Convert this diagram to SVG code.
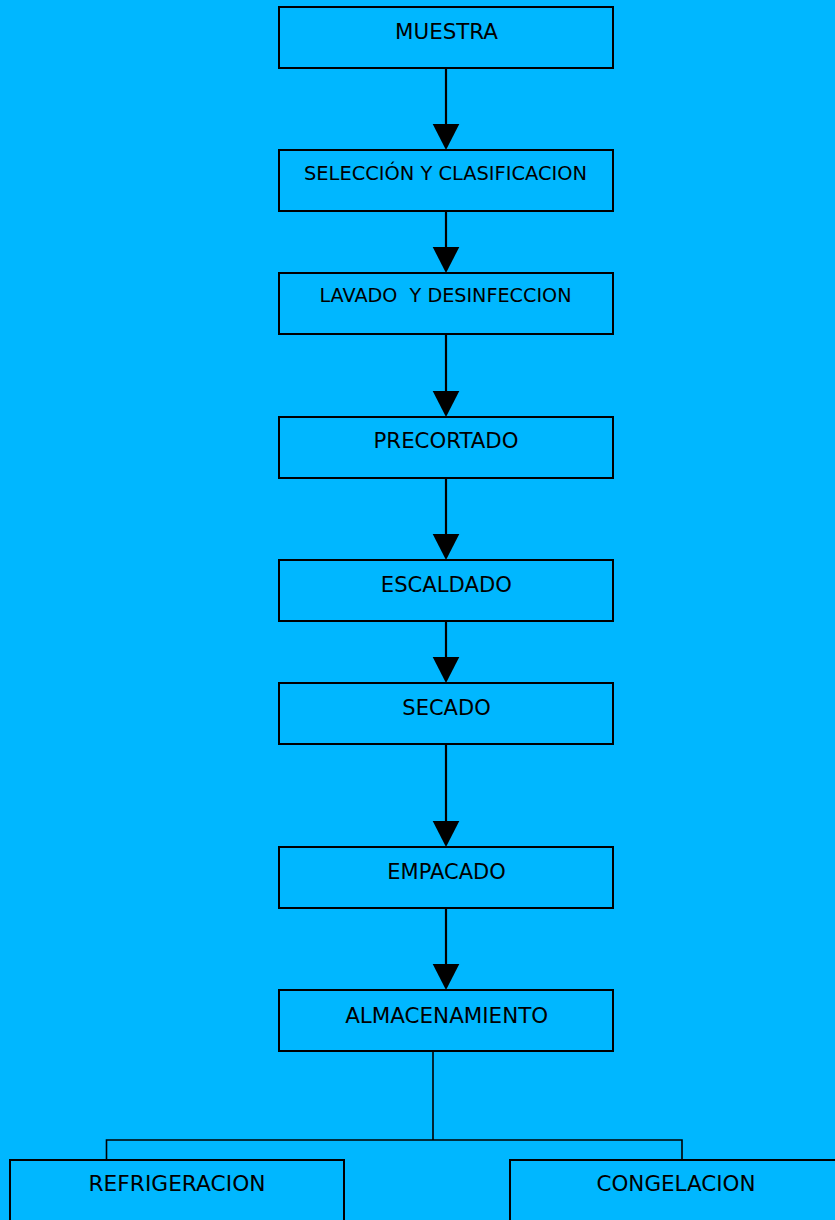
<svg xmlns="http://www.w3.org/2000/svg" width="835" height="1220" viewBox="0 0 835 1220">
<style>
.box{fill:#00B7FF;stroke:#000;stroke-width:2}
.t{font-family:"DejaVu Sans",Verdana,sans-serif;font-size:21px;fill:#000;text-anchor:middle}
.s{font-size:19px}
.ln{stroke:#000;stroke-width:2.2;fill:none}
.br{stroke:#000;stroke-width:1.6;fill:none}
</style>
<defs>
<polygon id="ah" points="-13.3,0 13.3,0 0,26" fill="#000"/>
</defs>
<rect width="835" height="1220" fill="#00B7FF"/>
<g id="connectors">
<line class="ln" x1="446" y1="68" x2="446" y2="124"/><use href="#ah" x="446" y="124"/>
<line class="ln" x1="446" y1="211" x2="446" y2="247"/><use href="#ah" x="446" y="247"/>
<line class="ln" x1="446" y1="334" x2="446" y2="391"/><use href="#ah" x="446" y="391"/>
<line class="ln" x1="446" y1="478" x2="446" y2="534"/><use href="#ah" x="446" y="534"/>
<line class="ln" x1="446" y1="621" x2="446" y2="657"/><use href="#ah" x="446" y="657"/>
<line class="ln" x1="446" y1="744" x2="446" y2="821"/><use href="#ah" x="446" y="821"/>
<line class="ln" x1="446" y1="908" x2="446" y2="964"/><use href="#ah" x="446" y="964"/>
<polyline class="br" points="433,1052 433,1140"/>
<polyline class="br" points="106.5,1160 106.5,1140 682,1140 682,1160"/>
</g>
<g id="n1"><rect class="box" x="279" y="7" width="334" height="61"/><text class="t" x="446.5" y="39" textLength="103" lengthAdjust="spacingAndGlyphs">MUESTRA</text></g>
<g id="n2"><rect class="box" x="279" y="150" width="334" height="61"/><text class="t s" x="445.5" y="180" textLength="283" lengthAdjust="spacingAndGlyphs">SELECCIÓN Y CLASIFICACION</text></g>
<g id="n3"><rect class="box" x="279" y="273" width="334" height="61"/><text class="t s" x="445.5" y="302" textLength="252" lengthAdjust="spacingAndGlyphs" xml:space="preserve">LAVADO  Y DESINFECCION</text></g>
<g id="n4"><rect class="box" x="279" y="417" width="334" height="61"/><text class="t" x="446" y="448" textLength="145" lengthAdjust="spacingAndGlyphs">PRECORTADO</text></g>
<g id="n5"><rect class="box" x="279" y="560" width="334" height="61"/><text class="t" x="446.3" y="592" textLength="131" lengthAdjust="spacingAndGlyphs">ESCALDADO</text></g>
<g id="n6"><rect class="box" x="279" y="683" width="334" height="61"/><text class="t" x="446.5" y="715">SECADO</text></g>
<g id="n7"><rect class="box" x="279" y="847" width="334" height="61"/><text class="t" x="446.5" y="879">EMPACADO</text></g>
<g id="n8"><rect class="box" x="279" y="990" width="334" height="61"/><text class="t" x="446.7" y="1023" textLength="203" lengthAdjust="spacingAndGlyphs">ALMACENAMIENTO</text></g>
<g id="n9"><rect class="box" x="10" y="1160" width="334" height="70"/><text class="t" x="177" y="1191" textLength="177" lengthAdjust="spacingAndGlyphs">REFRIGERACION</text></g>
<g id="n10"><rect class="box" x="510" y="1160" width="334" height="70"/><text class="t" x="676" y="1191" textLength="159" lengthAdjust="spacingAndGlyphs">CONGELACION</text></g>
</svg>
